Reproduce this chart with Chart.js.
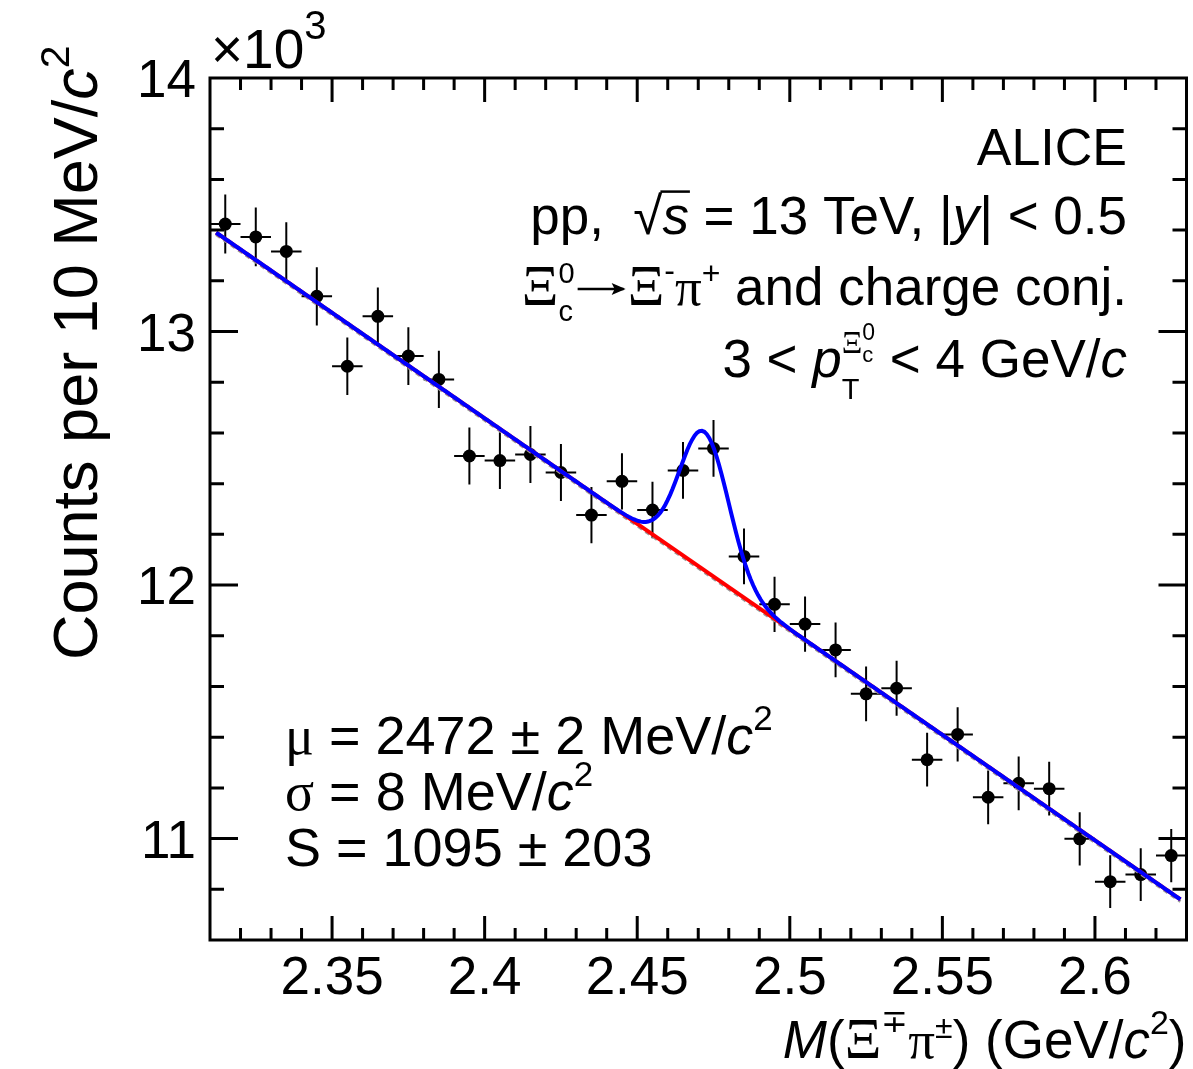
<!DOCTYPE html>
<html>
<head>
<meta charset="utf-8">
<script src="https://cdn.jsdelivr.net/npm/chart.js@4.4.1/dist/chart.umd.min.js"></script>
<style>
  html, body { margin: 0; padding: 0; background: #fff; }
  canvas { display: block; }
</style>
</head>
<body>
<canvas id="massChart" width="1193" height="1069"></canvas>
<script>
// Xi_c0 -> Xi- pi+ invariant mass, 3 < pT < 4 GeV/c
const massBins = [2.315, 2.325, 2.335, 2.345, 2.355, 2.365, 2.375, 2.385, 2.395, 2.405, 2.415,
  2.425, 2.435, 2.445, 2.455, 2.465, 2.475, 2.485, 2.495, 2.505, 2.515, 2.525, 2.535, 2.545,
  2.555, 2.565, 2.575, 2.585, 2.595, 2.605, 2.615, 2.625]
const counts = [13424, 13373, 13316, 13139, 12863, 13060, 12903, 12811, 12509, 12491, 12515,
  12444, 12276, 12409, 12296, 12452, 12539, 12113, 11924, 11846, 11744, 11571, 11593, 11311,
  11411, 11163, 11218, 11197, 10999, 10830, 10858, 10933]
const countErrors = [116, 116, 115, 115, 113, 114, 114, 113, 112, 112, 112, 112, 111, 111, 111,
  112, 112, 110, 109, 109, 108, 108, 108, 106, 107, 106, 106, 106, 105, 104, 104, 105]
const binWidth = 0.01

// fit results (GeV/c^2, counts)
const peakMean = 2.472
const peakSigma = 0.008
const peakSignal = 1095
const bkgAt231 = 13407
const bkgSlope = -8324
const sidebandBkgAt231 = 13399
const fitRange = [2.312, 2.628]

const xRange = [2.31, 2.63]
const yRange = [10600, 14000]
const xTicks = [2.35, 2.4, 2.45, 2.5, 2.55, 2.6]
const xTickLabels = ['2.35', '2.4', '2.45', '2.5', '2.55', '2.6']
const yTicks = [11000, 12000, 13000, 14000]
const yTickLabels = ['11', '12', '13', '14']
const xMinorStep = 0.01
const yMinorStep = 200

const SANS = '"Liberation Sans", Arial, Helvetica, sans-serif'
const SERIF = '"Liberation Serif", "Times New Roman", serif'

const background = (m, b0) => b0 + bkgSlope * (m - 2.31)
const signal = m => peakSignal * binWidth / (peakSigma * Math.sqrt(2 * Math.PI)) *
  Math.exp(-0.5 * ((m - peakMean) / peakSigma) ** 2)

const totalFit = []
for (let k = 0; ; k++) {
  const m = fitRange[0] + k * 0.0008
  if (m > fitRange[1] + 1e-9) break
  totalFit.push({ x: m, y: background(m, bkgAt231) + signal(m) })
}
const bkgLine = fitRange.map(m => ({ x: m, y: background(m, bkgAt231) }))
const sidebandLine = fitRange.map(m => ({ x: m, y: background(m, sidebandBkgAt231) }))

// --- small rich-text helper: italics, sub/superscripts, stacked indices, arrow ---
function fontFor(r, size) {
  return (r.it ? 'italic ' : '') + Math.round(size * (r.k || 1)) + 'px ' + (r.serif ? SERIF : SANS)
}
function runWidth(ctx, r, size) {
  if (r.stack) return Math.max(...r.stack.map(s => runWidth(ctx, s, size)))
  if (r.seq) return r.seq.reduce((w, s) => w + runWidth(ctx, s, size), 0)
  if (r.arrow) return r.arrow * size
  ctx.font = fontFor(r, size)
  return ctx.measureText(r.t).width
}
function drawRun(ctx, r, x, y, size) {
  if (r.stack) { r.stack.forEach(s => drawRun(ctx, s, x, y, size)); return runWidth(ctx, r, size) }
  if (r.seq) { let cx = x; r.seq.forEach(s => { cx += drawRun(ctx, s, cx, y, size) }); return cx - x }
  if (r.arrow) {
    const w = r.arrow * size
    const ay = y - 0.3 * size
    ctx.save()
    ctx.lineWidth = 2.5
    ctx.beginPath()
    ctx.moveTo(x + 3, ay)
    ctx.lineTo(x + w - 4, ay)
    ctx.stroke()
    ctx.beginPath()
    ctx.moveTo(x + w - 2, ay)
    ctx.lineTo(x + w - 16, ay - 6)
    ctx.lineTo(x + w - 13, ay)
    ctx.lineTo(x + w - 16, ay + 6)
    ctx.closePath()
    ctx.fill()
    ctx.restore()
    return w
  }
  ctx.font = fontFor(r, size)
  const by = y + (r.dy || 0) * size
  ctx.fillText(r.t, x, by)
  const w = ctx.measureText(r.t).width
  if (r.over) {
    ctx.save()
    ctx.lineWidth = 2.5
    ctx.beginPath()
    ctx.moveTo(x - 2, by - 0.8 * size)
    ctx.lineTo(x + w + 1, by - 0.8 * size)
    ctx.stroke()
    ctx.restore()
  }
  return w
}
function drawRich(ctx, runs, x, y, size, align) {
  const total = runs.reduce((w, r) => w + runWidth(ctx, r, size), 0)
  let cx = align === 'right' ? x - total : align === 'center' ? x - total / 2 : x
  ctx.textAlign = 'left'
  ctx.textBaseline = 'alphabetic'
  runs.forEach(r => { cx += drawRun(ctx, r, cx, y, size) })
}

const sup2 = { t: '2', k: 0.65, dy: -0.45 }
const italicC = { t: 'c', it: true }

const errorBars = {
  id: 'errorBars',
  beforeDatasetsDraw(chart) {
    const { ctx, chartArea: a, scales: { x, y } } = chart
    ctx.save()
    ctx.beginPath()
    ctx.rect(a.left, a.top, a.right - a.left, a.bottom - a.top)
    ctx.clip()
    ctx.strokeStyle = '#000'
    ctx.lineWidth = 2
    ctx.beginPath()
    massBins.forEach((m, i) => {
      const px = x.getPixelForValue(m)
      const py = y.getPixelForValue(counts[i])
      ctx.moveTo(x.getPixelForValue(m - binWidth / 2), py)
      ctx.lineTo(x.getPixelForValue(m + binWidth / 2), py)
      ctx.moveTo(px, y.getPixelForValue(counts[i] - countErrors[i]))
      ctx.lineTo(px, y.getPixelForValue(counts[i] + countErrors[i]))
    })
    ctx.stroke()
    ctx.restore()
  }
}

const frame = {
  id: 'frame',
  afterDraw(chart) {
    const { ctx, chartArea: a, scales: { x, y } } = chart
    ctx.save()
    ctx.strokeStyle = '#000'
    ctx.fillStyle = '#000'
    ctx.lineWidth = 3
    ctx.strokeRect(a.left, a.top, a.right - a.left, a.bottom - a.top)

    // inward ticks on all four sides
    ctx.beginPath()
    const nx = Math.round((xRange[1] - xRange[0]) / xMinorStep)
    for (let k = 1; k < nx; k++) {
      const m = xRange[0] + k * xMinorStep
      const px = x.getPixelForValue(m)
      const len = xTicks.some(t => Math.abs(t - m) < 1e-6) ? 24 : 12
      ctx.moveTo(px, a.bottom); ctx.lineTo(px, a.bottom - len)
      ctx.moveTo(px, a.top); ctx.lineTo(px, a.top + len)
    }
    const ny = Math.round((yRange[1] - yRange[0]) / yMinorStep)
    for (let k = 1; k < ny; k++) {
      const v = yRange[0] + k * yMinorStep
      const py = y.getPixelForValue(v)
      const len = yTicks.includes(v) ? 28 : 14
      ctx.moveTo(a.left, py); ctx.lineTo(a.left + len, py)
      ctx.moveTo(a.right, py); ctx.lineTo(a.right - len, py)
    }
    ctx.stroke()

    // tick labels
    ctx.font = '53px ' + SANS
    ctx.textAlign = 'center'
    ctx.textBaseline = 'alphabetic'
    xTicks.forEach((t, i) => ctx.fillText(xTickLabels[i], x.getPixelForValue(t), a.bottom + 54))
    ctx.textAlign = 'right'
    yTicks.forEach((t, i) => ctx.fillText(yTickLabels[i], a.left - 14, y.getPixelForValue(t) + 19))

    // exponent
    drawRich(ctx, [{ t: '×10' }, { t: '3', k: 0.72, dy: -0.52 }], a.left + 1, 68, 55, 'left')

    // axis titles
    drawRich(ctx, [{ t: 'M', it: true }, { t: '(' }, { t: 'Ξ', serif: true, k: 1.08 },
      { t: '∓', k: 0.6, dy: -0.5 }, { t: 'π', serif: true }, { t: '±', k: 0.6, dy: -0.38 },
      { t: ') (GeV/' }, italicC, sup2, { t: ')' }], a.right, 1058, 53, 'right')

    ctx.save()
    ctx.translate(97, 660)
    ctx.rotate(-Math.PI / 2)
    drawRich(ctx, [{ t: 'Counts per 10 MeV/' }, italicC, sup2], 0, 0, 63, 'left')
    ctx.restore()

    // labels, top right
    const rx = 1127
    drawRich(ctx, [{ t: 'ALICE' }], rx, 165, 52, 'right')
    drawRich(ctx, [{ t: 'pp,  √' }, { t: 's', it: true, over: true }, { t: ' = 13 TeV, |' },
      { t: 'y', it: true }, { t: '| < 0.5' }], rx, 234, 53, 'right')
    drawRich(ctx, [{ t: 'Ξ', serif: true, k: 1.08 },
      { stack: [{ t: 'c', k: 0.55, dy: 0.3 }, { t: '0', k: 0.55, dy: -0.42 }] },
      { arrow: 1.0 }, { t: 'Ξ', serif: true, k: 1.08 }, { t: '-', k: 0.6, dy: -0.45 },
      { t: 'π', serif: true }, { t: '+', k: 0.6, dy: -0.4 }, { t: ' and charge conj.' }],
      rx, 305, 53, 'right')
    drawRich(ctx, [{ t: '3 < ' }, { t: 'p', it: true },
      { stack: [{ t: 'T', k: 0.55, dy: 0.42 },
        { seq: [{ t: 'Ξ', serif: true, k: 0.6, dy: -0.45 },
          { stack: [{ t: 'c', k: 0.42, dy: -0.29 }, { t: '0', k: 0.44, dy: -0.7 }] }] }] },
      { t: ' < 4 GeV/' }, italicC], rx, 377, 53, 'right')

    // fit results, bottom left
    drawRich(ctx, [{ t: 'μ', serif: true }, { t: ' = 2472 ± 2 MeV/' }, italicC, sup2], 285, 754, 54, 'left')
    drawRich(ctx, [{ t: 'σ', serif: true }, { t: ' = 8 MeV/' }, italicC, sup2], 285, 810, 54, 'left')
    drawRich(ctx, [{ t: 'S = 1095 ± 203' }], 285, 866, 54, 'left')
    ctx.restore()
  }
}

new Chart(document.getElementById('massChart'), {
  type: 'scatter',
  data: {
    datasets: [
      {
        label: 'data',
        data: massBins.map((m, i) => ({ x: m, y: counts[i] })),
        pointRadius: 6.5,
        pointBackgroundColor: '#000',
        pointBorderWidth: 0,
        order: 10
      },
      {
        label: 'sideband background',
        data: sidebandLine,
        showLine: true,
        pointRadius: 0,
        borderColor: '#9a9a9a',
        borderWidth: 3,
        borderDash: [5, 4],
        order: 5
      },
      {
        label: 'background',
        data: bkgLine,
        showLine: true,
        pointRadius: 0,
        borderColor: '#ff0000',
        borderWidth: 4,
        order: 4
      },
      {
        label: 'total fit',
        data: totalFit,
        showLine: true,
        pointRadius: 0,
        borderColor: '#0000ff',
        borderWidth: 4,
        tension: 0,
        order: 3
      }
    ]
  },
  options: {
    responsive: false,
    devicePixelRatio: 1,
    animation: false,
    layout: { padding: { left: 210, right: 4, top: 78, bottom: 129 } },
    scales: {
      x: { type: 'linear', min: xRange[0], max: xRange[1], display: false },
      y: { type: 'linear', min: yRange[0], max: yRange[1], display: false }
    },
    plugins: {
      legend: { display: false },
      tooltip: { enabled: false }
    }
  },
  plugins: [errorBars, frame]
})
</script>
</body>
</html>
